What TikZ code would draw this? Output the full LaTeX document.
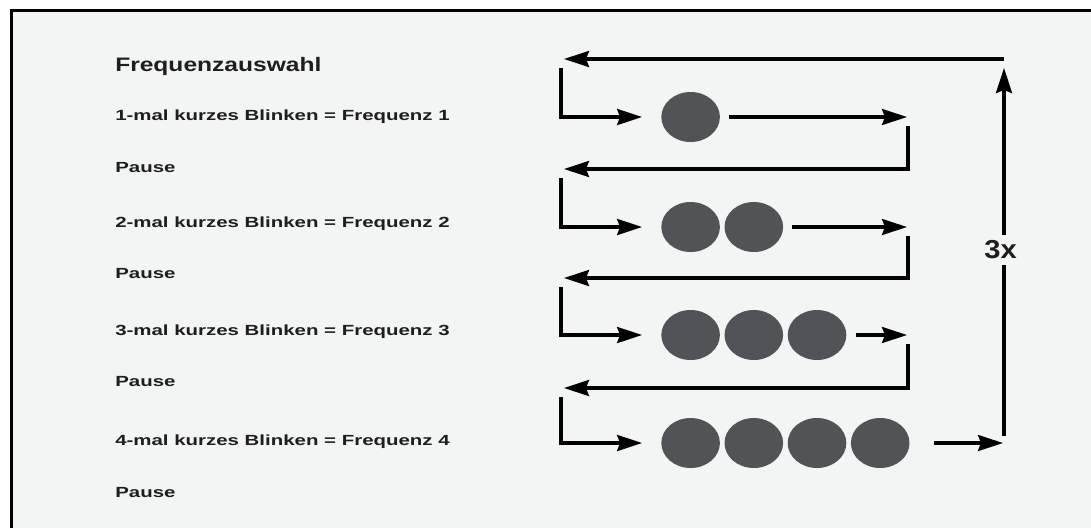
\documentclass[tikz,border=0pt]{standalone}
\usepackage{fontspec}
\setmainfont{Liberation Sans}
\usetikzlibrary{arrows.meta,shapes.geometric}
\definecolor{bggrey}{RGB}{243,244,244}
\definecolor{dotgrey}{RGB}{81,84,87}
\definecolor{txtblack}{RGB}{30,30,30}

\begin{document}
\begin{tikzpicture}[x=1pt,y=-1pt,
    ln/.style={line width=3.1pt},
    arr/.style={ln,-{Stealth[length=25pt,width=16pt,inset=3pt]}},
    dot/.style={ellipse,fill=dotgrey,minimum width=58.6pt,minimum height=50pt,inner sep=0pt},
    txt/.style={anchor=base west,inner sep=0pt,text=txtblack},
    lbl/.style={txt,font=\bfseries\fontsize{14.7}{17}\selectfont,xscale=1.39},
    head/.style={txt,font=\bfseries\fontsize{19.5}{23}\selectfont,xscale=1.26},
    rep/.style={inner xsep=0pt,inner ysep=6pt,fill=bggrey,text=txtblack,font=\bfseries\fontsize{26}{30}\selectfont,xscale=1.12}]
\useasboundingbox (0,0) rectangle (1091,528);
\fill[bggrey] (11.5,10.5) rectangle (1091,528);
\draw[line width=3pt] (11.5,528) -- (11.5,10.5) -- (1091,10.5);

% texte links
\node[head] (title) at (115,71) {Frequenzauswahl};
\foreach \i/\yf/\yp in {1/120/172.5,2/227/278,3/335/386,4/445/497}{
    \node[lbl] (freq\i) at (115,\yf) {\i-mal kurzes Blinken = Frequenz \i};
    \node[lbl] (pause\i) at (115,\yp) {Pause};
}

% blinkreihen
\foreach \i/\yr/\yb in {1/117/59,2/227/169,3/335/278,4/443/388}{
    \coordinate (back\i) at (564,\yb);
    \coordinate (drop\i) at (561,\yb+9);
    \coordinate (rise\i) at (908,\yr+9);
    \coordinate (out\i) at (907,\yr);
    \foreach \j in {1,...,\i}
        \node[dot] (d\i\j) at (627.4+63.2*\j,\yr) {};
    \draw[arr,shorten >=19pt] (drop\i) |- (d\i1.west);
}
\foreach \i in {1,2,3}
    \draw[arr,shorten <=9pt] (d\i\i.east) -- (out\i);
\foreach \i/\k in {1/2,2/3,3/4}
    \draw[arr] (rise\i) |- (back\k);

% wiederholung
\coordinate (top) at (1004,59);
\coordinate (topin) at (1004,68);
\coordinate (bot) at (1004,436);
\coordinate (end) at (1003,443);
\draw[arr] (top) -- (back1);
\draw[arr,shorten <=24pt] (d44.east) -- (end);
\node[rep] (times) at (1000.5,250) {3x};
\draw[ln] (bot) -- (bot |- times.south);
\draw[arr] (bot |- times.north) -- (topin);
\end{tikzpicture}
\end{document}
